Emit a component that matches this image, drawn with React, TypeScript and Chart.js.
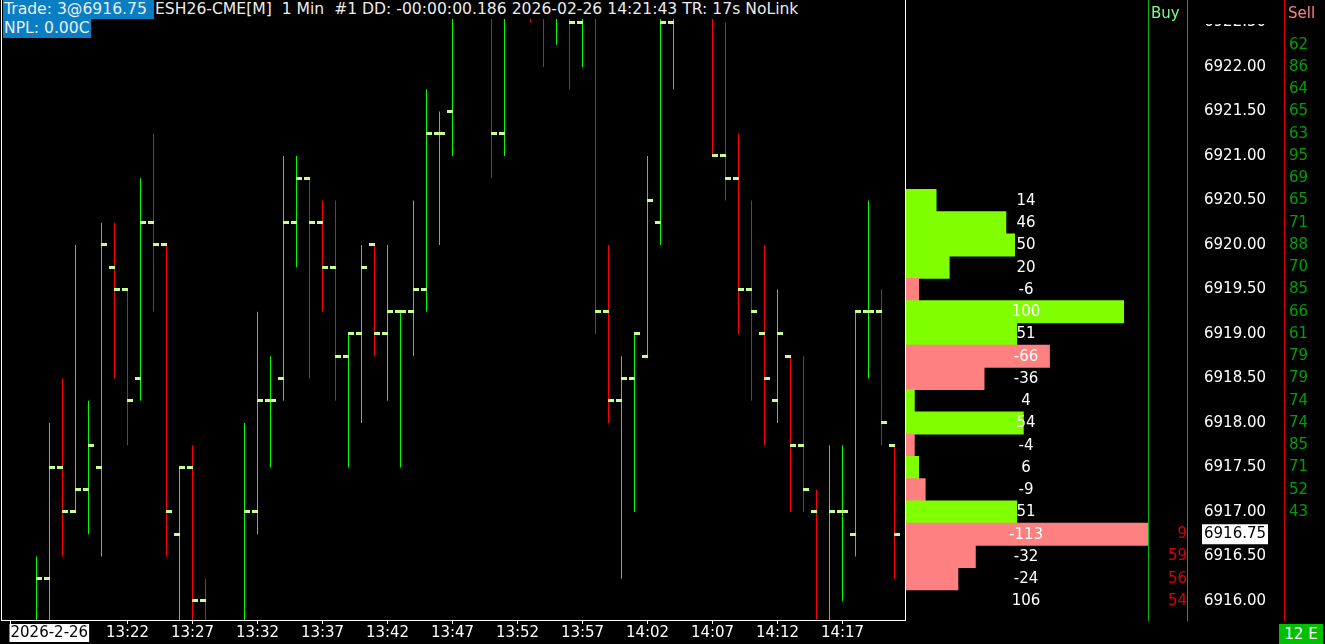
import React, { useEffect, useRef } from 'react';
import { Chart, registerables } from 'chart.js';

Chart.register(...registerables);

// ---------------- data ----------------
const minuteLabels = [
  '13:13','13:14','13:15','13:16','13:17','13:18','13:19','13:20','13:21','13:22',
  '13:23','13:24','13:25','13:26','13:27','13:28','13:29','13:30','13:31','13:32',
  '13:33','13:34','13:35','13:36','13:37','13:38','13:39','13:40','13:41','13:42',
  '13:43','13:44','13:45','13:46','13:47','13:48','13:49','13:50','13:51','13:52',
  '13:53','13:54','13:55','13:56','13:57','13:58','13:59','14:00','14:01','14:02',
  '14:03','14:04','14:05','14:06','14:07','14:08','14:09','14:10','14:11','14:12',
  '14:13','14:14','14:15','14:16','14:17','14:18','14:19','14:20','14:21',
];

const opens = [
  null, null, 6915.75, 6916.25, 6917.5, 6917.0, 6917.25, 6917.5, 6919.75, 6919.5,
  6918.5, 6920.25, 6920.0, 6916.75, 6917.5, 6916.0, null, null, 6915.75, 6917.0,
  6918.25, 6918.5, 6920.25, 6920.75, 6920.25, 6919.75, 6918.75, 6919.0, 6920.0, 6919.0,
  6919.25, 6919.25, 6919.5, 6921.25, 6921.5, null, null, 6922.75, 6921.25, null,
  6923.0, 6923.0, 6922.75, 6922.75, 6922.5, 6922.75, 6919.25, 6918.25, 6918.5, 6918.75,
  6920.25, 6922.5, null, null, 6922.75, 6921.0, 6920.75, 6919.5, 6919.0, 6918.25,
  6918.75, 6917.75, 6917.0, 6915.75, 6917.0, 6916.75, 6919.25, 6919.25, 6917.75,
];
const highs = [
  null, null, 6916.5, 6918.0, 6918.5, 6920.0, 6918.25, 6920.25, 6920.25, 6919.5,
  6920.75, 6921.25, 6920.0, 6917.5, 6917.75, 6916.25, null, null, 6918.0, 6919.25,
  6918.75, 6921.0, 6921.0, 6920.75, 6920.5, 6920.5, 6919.0, 6920.0, 6920.0, 6920.0,
  6919.25, 6920.5, 6921.75, 6921.5, 6923.0, null, null, 6923.0, 6923.0, null,
  6923.25, 6923.25, 6923.25, 6923.0, 6923.0, 6923.0, 6920.0, 6918.75, 6919.0, 6921.0,
  6922.75, 6923.0, null, null, 6923.0, 6922.5, 6921.25, 6920.5, 6920.0, 6919.5,
  6918.75, 6918.75, 6917.25, 6917.75, 6917.75, 6919.25, 6920.5, 6919.5, 6917.75,
];
const lows = [
  null, null, 6915.75, 6915.75, 6916.5, 6917.0, 6916.75, 6916.5, 6918.5, 6917.75,
  6918.25, 6919.25, 6916.5, 6915.75, 6915.75, 6915.5, null, null, 6915.75, 6916.75,
  6917.5, 6918.25, 6919.75, 6918.5, 6919.25, 6918.25, 6917.5, 6918.0, 6918.75, 6918.25,
  6917.5, 6918.75, 6919.25, 6920.0, 6921.0, null, null, 6920.75, 6921.0, null,
  6922.5, 6922.0, 6922.25, 6921.75, 6922.0, 6919.0, 6918.0, 6916.25, 6917.0, 6918.75,
  6920.0, 6921.75, null, null, 6921.0, 6920.5, 6919.0, 6918.25, 6917.75, 6918.0,
  6917.0, 6917.0, 6915.75, 6915.75, 6916.0, 6916.5, 6918.5, 6917.75, 6916.25,
];
const closes = [
  null, null, 6916.25, 6917.5, 6917.0, 6917.25, 6917.75, 6920.0, 6919.5, 6918.25,
  6920.25, 6920.0, 6917.0, 6917.5, 6916.0, 6915.75, null, null, 6917.0, 6918.25,
  6918.25, 6920.25, 6920.75, 6920.25, 6919.75, 6918.75, 6919.0, 6919.75, 6919.0, 6919.25,
  6919.25, 6919.5, 6921.25, 6921.25, 6922.75, null, null, 6921.25, 6922.75, null,
  6922.75, 6922.75, 6923.0, 6922.5, 6922.75, 6919.25, 6918.25, 6918.5, 6919.0, 6920.5,
  6922.5, 6922.75, null, null, 6921.0, 6920.75, 6919.5, 6919.25, 6918.5, 6919.0,
  6917.75, 6917.25, 6915.75, 6917.0, 6917.0, 6919.25, 6919.25, 6918.0, 6916.75,
];

const profilePrices = [
  6920.5, 6920.25, 6920.0, 6919.75, 6919.5, 6919.25, 6919.0, 6918.75, 6918.5, 6918.25,
  6918.0, 6917.75, 6917.5, 6917.25, 6917.0, 6916.75, 6916.5, 6916.25, 6916.0,
];
const profileValues = [14, 46, 50, 20, -6, 100, 51, -66, -36, 4, 54, -4, 6, -9, 51, -113, -32, -24, 106];
// the bottom row (106) shows only its number, no bar
const profileBarRows = profileValues.length - 1;

const buyPrices = [6916.75, 6916.5, 6916.25, 6916.0];
const buyValues = [9, 59, 56, 54];

const sellPrices = [
  6922.25, 6922.0, 6921.75, 6921.5, 6921.25, 6921.0, 6920.75, 6920.5, 6920.25, 6920.0, 6919.75,
  6919.5, 6919.25, 6919.0, 6918.75, 6918.5, 6918.25, 6918.0, 6917.75, 6917.5, 6917.25, 6917.0,
];
const sellValues = [62, 86, 64, 65, 63, 95, 69, 65, 71, 88, 70, 85, 66, 61, 79, 79, 74, 74, 85, 71, 52, 43];

const priceTickValues = [
  6916.0, 6916.5, 6916.75, 6917.0, 6917.5, 6918.0, 6918.5, 6919.0, 6919.5, 6920.0,
  6920.5, 6921.0, 6921.5, 6922.0, 6922.5,
];
const lastPrice = 6916.75;

const dateLabel = '2026-2-26';
const timeTickLabels = ['13:22','13:27','13:32','13:37','13:42','13:47','13:52','13:57','14:02','14:07','14:12','14:17'];

// ---------------- styles ----------------
const FONT_FAMILY = '"DejaVu Sans", sans-serif';
const UP = '#00ff00';
const DOWN = '#ff0000';
const TICK_COLOR = '#c8ff8c';
const PROFILE_POS = '#80ff00';
const PROFILE_NEG = '#ff8080';
const COL_GREEN = '#00b400';
const COL_RED = '#dc0000';
const SELL_TEXT = '#00a000';
const BLUE = '#0a7ec2';

const xTicks = [
  { value: 0, label: dateLabel },
  ...timeTickLabels.map((l) => ({ value: minuteLabels.indexOf(l), label: l })),
  { value: 200, label: '' },
];

function makeTickImage(side: 'left' | 'right') {
  const c = document.createElement('canvas');
  c.width = 11;
  c.height = 3;
  const g = c.getContext('2d')!;
  g.fillStyle = TICK_COLOR;
  g.fillRect(side === 'left' ? 0 : 5, 0, 6, 3);
  return c;
}

const fixBox = (w: number | null, h: number | null) => (scale: any) => {
  if (w !== null) scale.width = w;
  if (h !== null) scale.height = h;
  scale.paddingTop = 0;
  scale.paddingBottom = 0;
  scale.paddingLeft = 0;
  scale.paddingRight = 0;
};

const profileLabelPlugin = {
  id: 'profileLabels',
  afterDatasetsDraw(chart: any) {
    const { ctx, chartArea, scales } = chart;
    const x = (scales.x2.getPixelForValue(0) + chartArea.right) / 2 - 1;
    ctx.save();
    ctx.font = '15px ' + FONT_FAMILY;
    ctx.fillStyle = '#ffffff';
    ctx.textAlign = 'center';
    ctx.textBaseline = 'middle';
    profilePrices.forEach((p, k) => {
      ctx.fillText(String(profileValues[k]), x, scales.y.getPixelForValue(p) + 0.5);
    });
    ctx.restore();
  },
};

export default function App() {
  const ref = useRef<HTMLCanvasElement>(null);

  useEffect(() => {
    const canvas = ref.current!;
    const idx = minuteLabels.map((_, i) => i).filter((i) => highs[i] !== null);
    const leftTick = makeTickImage('left');
    const rightTick = makeTickImage('right');
    const font = { family: FONT_FAMILY, size: 15 };
    const rows = profilePrices.slice(0, profileBarRows).map((p, k) => ({ p, v: profileValues[k] }));

    const chart = new Chart(canvas, {
      type: 'bar',
      data: {
        datasets: [
          {
            type: 'line',
            label: 'open',
            data: idx.map((i) => ({ x: i, y: opens[i] })),
            showLine: false,
            pointStyle: leftTick,
            pointRadius: 3,
            pointHoverRadius: 3,
            xAxisID: 'x',
            yAxisID: 'y',
            clip: 0,
            order: 0,
          },
          {
            type: 'line',
            label: 'close',
            data: idx.map((i) => ({ x: i, y: closes[i] })),
            showLine: false,
            pointStyle: rightTick,
            pointRadius: 3,
            pointHoverRadius: 3,
            xAxisID: 'x',
            yAxisID: 'y',
            clip: 0,
            order: 0,
          },
          {
            type: 'bar',
            label: 'range',
            data: idx.map((i) => ({ x: i, y: [lows[i], highs[i]] })),
            backgroundColor: idx.map((i) => ((closes[i] as number) >= (opens[i] as number) ? UP : DOWN)),
            barThickness: 1,
            grouped: false,
            inflateAmount: 0,
            borderWidth: 0,
            xAxisID: 'x',
            yAxisID: 'y',
            clip: 0,
            order: 1,
          },
          {
            type: 'bar',
            label: 'profile',
            indexAxis: 'y',
            data: rows.map((r) => ({ x: Math.abs(r.v), y: r.p })),
            backgroundColor: rows.map((r) => (r.v < 0 ? PROFILE_NEG : PROFILE_POS)),
            barThickness: 23,
            grouped: false,
            inflateAmount: 0,
            borderWidth: 0,
            xAxisID: 'x2',
            yAxisID: 'y',
            clip: 0,
            order: 3,
          },
        ] as any,
      },
      options: {
        responsive: false,
        devicePixelRatio: 1,
        animation: false,
        events: [],
        layout: { autoPadding: false, padding: { left: 1, right: 0, top: 0, bottom: 0 } },
        plugins: { legend: { display: false }, tooltip: { enabled: false } },
        scales: {
          x: {
            type: 'linear',
            position: 'bottom',
            offset: false,
            min: -0.7308,
            max: 87.5,
            bounds: 'data',
            afterBuildTicks: (s: any) => {
              s.ticks = xTicks.map((t) => ({ value: t.value }));
            },
            afterFit: fixBox(null, 24),
            grid: { display: true, offset: false, drawOnChartArea: false, drawTicks: true, tickLength: 4, tickColor: '#ffffff', tickWidth: 1 },
            border: { display: false },
            ticks: {
              autoSkip: false,
              maxRotation: 0,
              minRotation: 0,
              align: 'inner',
              padding: 0,
              font,
              color: (c: any) => (c.index === 0 ? '#000000' : '#ffffff'),
              showLabelBackdrop: (c: any) => c.index === 0,
              backdropColor: '#ffffff',
              backdropPadding: { left: 1, right: 1, top: 0, bottom: 0 },
              callback: (_v: any, i: number) => xTicks[i].label,
            },
          },
          x2: {
            type: 'linear',
            axis: 'x',
            position: 'top',
            display: false,
            offset: false,
            grid: { offset: false },
            beginAtZero: false,
            min: -415.14,
            max: 111.01,
            bounds: 'data',
          },
          y: {
            type: 'linear',
            position: 'right',
            weight: 1,
            offset: false,
            beginAtZero: false,
            min: 6915.7865,
            max: 6922.7528,
            bounds: 'data',
            afterBuildTicks: (s: any) => {
              s.ticks = priceTickValues.map((v) => ({ value: v }));
            },
            afterFit: fixBox(97, null),
            grid: { display: false, offset: false, drawTicks: false },
            border: { display: true, color: COL_GREEN, width: 1 },
            ticks: {
              autoSkip: false,
              crossAlign: 'center',
              padding: 17,
              font,
              color: (c: any) => (c.tick && c.tick.value === lastPrice ? '#000000' : '#ffffff'),
              showLabelBackdrop: (c: any) => !!(c.tick && c.tick.value === lastPrice),
              backdropColor: '#ffffff',
              backdropPadding: { left: 2, right: 2, top: 1, bottom: 1 },
              callback: (v: any) => Number(v).toFixed(2),
            },
          },
          buy: {
            type: 'linear',
            axis: 'y',
            position: 'right',
            weight: 0,
            offset: false,
            beginAtZero: false,
            min: 6915.7865,
            max: 6922.7528,
            bounds: 'data',
            afterBuildTicks: (s: any) => {
              s.ticks = buyPrices.map((v) => ({ value: v }));
            },
            afterFit: fixBox(39, null),
            grid: { display: false, drawTicks: false },
            border: { display: true, color: COL_GREEN, width: 1 },
            ticks: {
              autoSkip: false,
              crossAlign: 'far',
              padding: 13,
              font,
              color: COL_RED,
              callback: (v: any) => {
                const k = buyPrices.indexOf(Number(v));
                return k >= 0 ? String(buyValues[k]) : '';
              },
            },
          },
          sell: {
            type: 'linear',
            axis: 'y',
            position: 'right',
            weight: 2,
            offset: false,
            beginAtZero: false,
            min: 6915.7865,
            max: 6922.7528,
            bounds: 'data',
            afterBuildTicks: (s: any) => {
              s.ticks = sellPrices.map((v) => ({ value: v }));
            },
            afterFit: fixBox(41, null),
            grid: { display: false, drawTicks: false },
            border: { display: true, color: COL_RED, width: 1 },
            ticks: {
              autoSkip: false,
              crossAlign: 'near',
              padding: 5,
              font,
              color: SELL_TEXT,
              callback: (v: any) => {
                const k = sellPrices.indexOf(Number(v));
                return k >= 0 ? String(sellValues[k]) : '';
              },
            },
          },
        } as any,
      },
      plugins: [profileLabelPlugin],
    } as any);

    return () => chart.destroy();
  }, []);

  const textBase: React.CSSProperties = {
    position: 'absolute',
    font: '15.6px ' + FONT_FAMILY,
    lineHeight: '19px',
    whiteSpace: 'pre',
  };

  return (
    <div style={{ position: 'fixed', left: 0, top: 0, width: 1325, height: 644, background: '#000', overflow: 'hidden' }}>
      <canvas ref={ref} width={1325} height={644} style={{ position: 'absolute', left: 0, top: 0, width: 1325, height: 644 }} />
      {/* main pane frame */}
      <div
        style={{
          position: 'absolute', left: 1, top: 0, width: 905, height: 621, boxSizing: 'border-box',
          borderLeft: '1px solid #fff', borderRight: '1px solid #fff', borderBottom: '1px solid #fff',
        }}
      />
      {/* header band */}
      <div style={{ position: 'absolute', left: 2, top: 0, width: 903, height: 19, background: '#000' }} />
      <div style={{ ...textBase, left: 3, top: 0, height: 19, width: 151, background: BLUE, color: '#e6eef5', paddingLeft: 1, boxSizing: 'border-box' }}>
        Trade: 3@6916.75
      </div>
      <div style={{ ...textBase, left: 155, top: 0, color: '#ececec' }}>
        ESH26-CME[M]  1 Min  #1 DD: -00:00:00.186 2026-02-26 14:21:43 TR: 17s NoLink
      </div>
      <div style={{ ...textBase, left: 3, top: 19, height: 19, width: 88, background: BLUE, color: '#e6eef5', paddingLeft: 1, boxSizing: 'border-box' }}>
        NPL: 0.00C
      </div>
      {/* column headers */}
      <div style={{ ...textBase, font: '15px ' + FONT_FAMILY, left: 1151, top: 4, color: '#80ff80' }}>Buy</div>
      <div style={{ ...textBase, font: '15px ' + FONT_FAMILY, left: 1288, top: 4, color: '#ff8080' }}>Sell</div>
      <div style={{ position: 'absolute', left: 1188, top: 0, width: 96, height: 24, background: '#000' }} />
      {/* bottom-right badge */}
      <div
        style={{
          ...textBase, font: '15px ' + FONT_FAMILY, left: 1279, top: 624, width: 44, height: 20, lineHeight: '20px', background: '#00c000',
          color: '#ffffff', textAlign: 'center',
        }}
      >
        12 E
      </div>
    </div>
  );
}
